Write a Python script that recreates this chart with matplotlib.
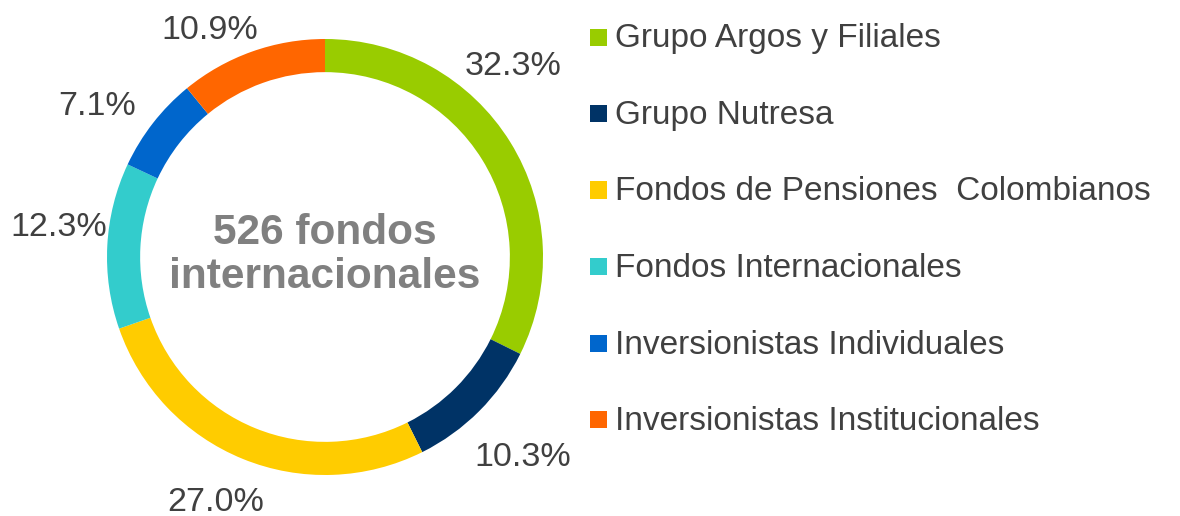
import numpy as np
import matplotlib
matplotlib.use('Agg')
import matplotlib.pyplot as plt
from matplotlib.patches import Rectangle

plt.rcParams.update({'font.family': ['Liberation Sans', 'DejaVu Sans']})

categories = ['Grupo Argos y Filiales', 'Grupo Nutresa',
              'Fondos de Pensiones  Colombianos', 'Fondos Internacionales',
              'Inversionistas Individuales', 'Inversionistas Institucionales']
shares = [32.3, 10.3, 27.0, 12.3, 7.1, 10.9]
colors = ['#99CC00', '#003366', '#FFCC00', '#33CCCC', '#0066CC', '#FF6600']
center_text = '526 fondos\ninternacionales'

TXT = '#404040'
W, H = 1180, 516
fig = plt.figure(figsize=(W / 100, H / 100), dpi=100)

# donut axes: centre at (325, 257) px, outer radius ~218 px
cx, cy, R, half = 325, 257, 218, 258
ax = fig.add_axes([(cx - half) / W, (H - cy - half) / H, 2 * half / W, 2 * half / H])
wedges, _ = ax.pie(shares, colors=colors, startangle=90, counterclock=False,
                   radius=1.0, wedgeprops=dict(width=0.152, linewidth=0))
lim = half / R
ax.set_xlim(-lim, lim); ax.set_ylim(-lim, lim)
ax.set_aspect('equal'); ax.axis('off')

# percentage labels just outside the ring (small angular nudge on a couple)
nudge = [14, 0, -2, -4, 4, 7]
rdist = [1.24, 1.28, 1.22, 1.23, 1.26, 1.18]
for w, v, dn, rd in zip(wedges, shares, nudge, rdist):
    ang = np.deg2rad((w.theta1 + w.theta2) / 2 + dn)
    ax.text(rd * np.cos(ang), rd * np.sin(ang) - 0.015, f'{v:.1f}%', ha='center', va='center',
            fontsize=24.5, color=TXT, clip_on=False)

ax.text(0, 0.01, center_text, ha='center', va='center', fontsize=30.5,
        fontweight='bold', color='#808080', linespacing=1.12)

# legend on the right
x0, y_top, step, sq = 590, 37, 76.5, 17
for i, (lab, c) in enumerate(zip(categories, colors)):
    y = y_top + i * step
    fig.patches.append(Rectangle((x0 / W, 1 - (y + sq / 2) / H), sq / W, sq / H,
                                 transform=fig.transFigure, facecolor=c, edgecolor='none'))
    fig.text(615 / W, 1 - (y + 2) / H, lab, ha='left', va='center', fontsize=24, color=TXT)

fig.savefig('out.png', dpi=100)
